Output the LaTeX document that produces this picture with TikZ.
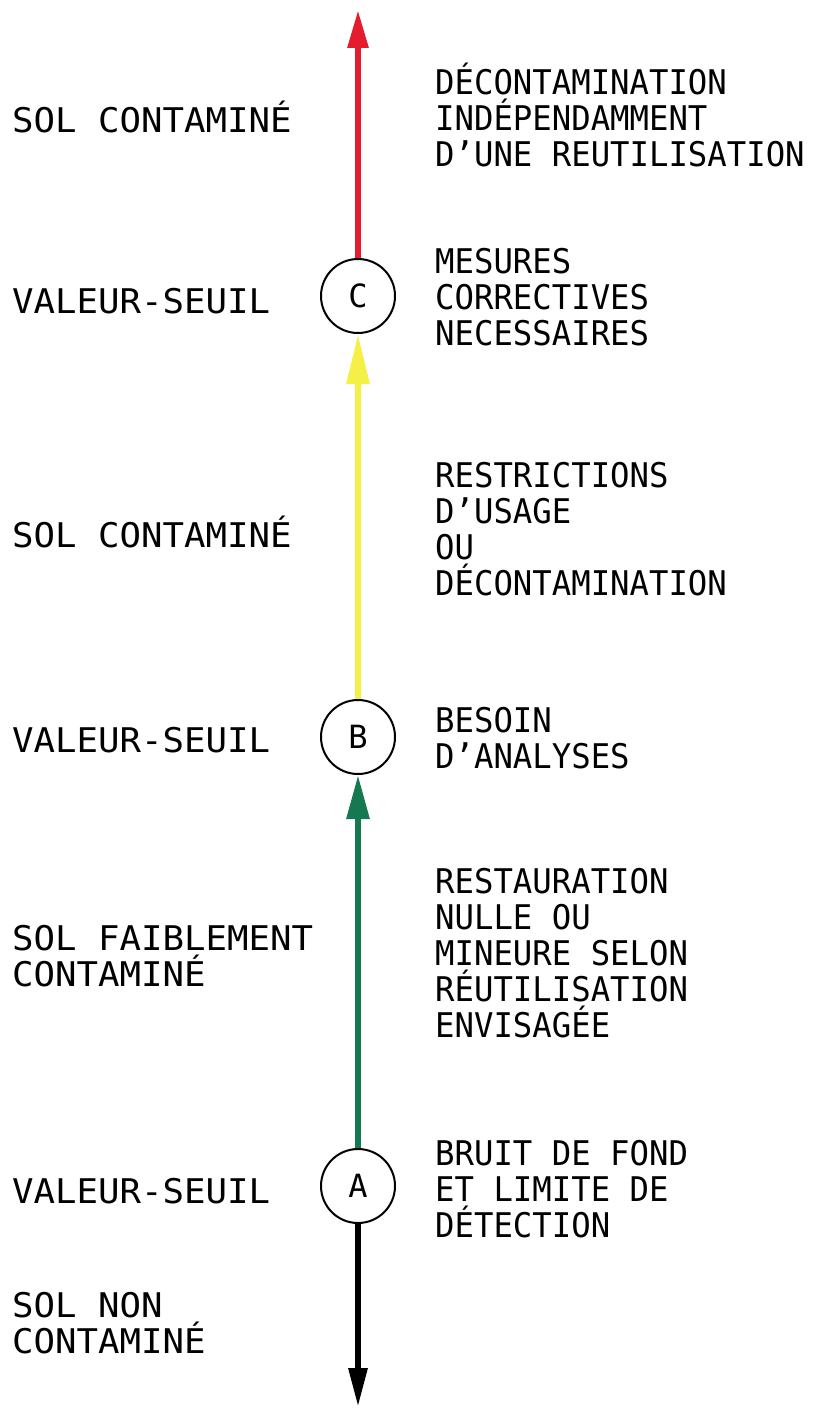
\documentclass[tikz,border=0pt]{standalone}
\usepackage{fontspec}
\newfontfamily\plotfontL[FakeStretch=1.05]{DejaVu Sans Mono}
\newfontfamily\plotfontR[FakeStretch=0.95]{DejaVu Sans Mono}
\newfontfamily\plotfont{DejaVu Sans Mono}
\usetikzlibrary{arrows.meta}
\definecolor{axred}{RGB}{228,28,48}
\definecolor{axyellow}{RGB}{245,240,70}
\definecolor{axgreen}{RGB}{20,120,80}
\begin{document}
\begin{tikzpicture}[x=1pt,y=-1pt,
  lbl/.style={anchor=base west, inner sep=0pt, font=\plotfontL\fontsize{34}{36}\selectfont},
  rlbl/.style={anchor=base west, inner sep=0pt, font=\plotfontR\fontsize{34}{36}\selectfont},
  seuil/.style={circle, draw, line width=2pt, minimum size=74pt, inner sep=0pt, font=\plotfont\fontsize{32}{32}\selectfont},
  axis/.style={line width=6pt},
]
\useasboundingbox (0,0) rectangle (813,1410);
% threshold circles
\node[seuil] (C) at (358,296) {C};
\node[seuil] (B) at (358,737) {B};
\node[seuil] (A) at (358,1186) {A};
\coordinate (topend) at (358,10);
\coordinate (botend) at (358,1407);
% axis segments
\draw[axis, axred, -{Triangle[length=38pt,width=20pt]}] (C.north) -- (topend);
\draw[axis, axyellow, -{Triangle[length=50pt,width=22pt]}] (B.north) -- (C.south);
\draw[axis, axgreen, -{Triangle[length=44pt,width=22pt]}] (A.north) -- (B.south);
\draw[axis, black, -{Triangle[length=39pt,width=18pt]}] (A.south) -- (botend);
% left column
\node[lbl] (l1) at (12,132) {SOL CONTAMINÉ};
\node[lbl] (l2) at (12,313) {VALEUR-SEUIL};
\node[lbl] (l3) at (12,547) {SOL CONTAMINÉ};
\node[lbl] (l4) at (12,752) {VALEUR-SEUIL};
\node[lbl] (l5) at (12,950) {\vtop{\hbox{SOL FAIBLEMENT}\hbox{CONTAMINÉ}}};
\node[lbl] (l6) at (12,1203) {VALEUR-SEUIL};
\node[lbl] (l7) at (12,1317) {\vtop{\hbox{SOL NON}\hbox{CONTAMINÉ}}};
% right column
\node[rlbl] (r1) at (435,95) {\vtop{\hbox{DÉCONTAMINATION}\hbox{INDÉPENDAMMENT}\hbox{D’UNE REUTILISATION}}};
\node[rlbl] (r2) at (435,273) {\vtop{\hbox{MESURES}\hbox{CORRECTIVES}\hbox{NECESSAIRES}}};
\node[rlbl] (r3) at (435,487) {\vtop{\hbox{RESTRICTIONS}\hbox{D’USAGE}\hbox{OU}\hbox{DÉCONTAMINATION}}};
\node[rlbl] (r4) at (435,732) {\vtop{\hbox{BESOIN}\hbox{D’ANALYSES}}};
\node[rlbl] (r5) at (435,893) {\vtop{\hbox{RESTAURATION}\hbox{NULLE OU}\hbox{MINEURE SELON}\hbox{RÉUTILISATION}\hbox{ENVISAGÉE}}};
\node[rlbl] (r6) at (435,1165) {\vtop{\hbox{BRUIT DE FOND}\hbox{ET LIMITE DE}\hbox{DÉTECTION}}};
\end{tikzpicture}
\end{document}
